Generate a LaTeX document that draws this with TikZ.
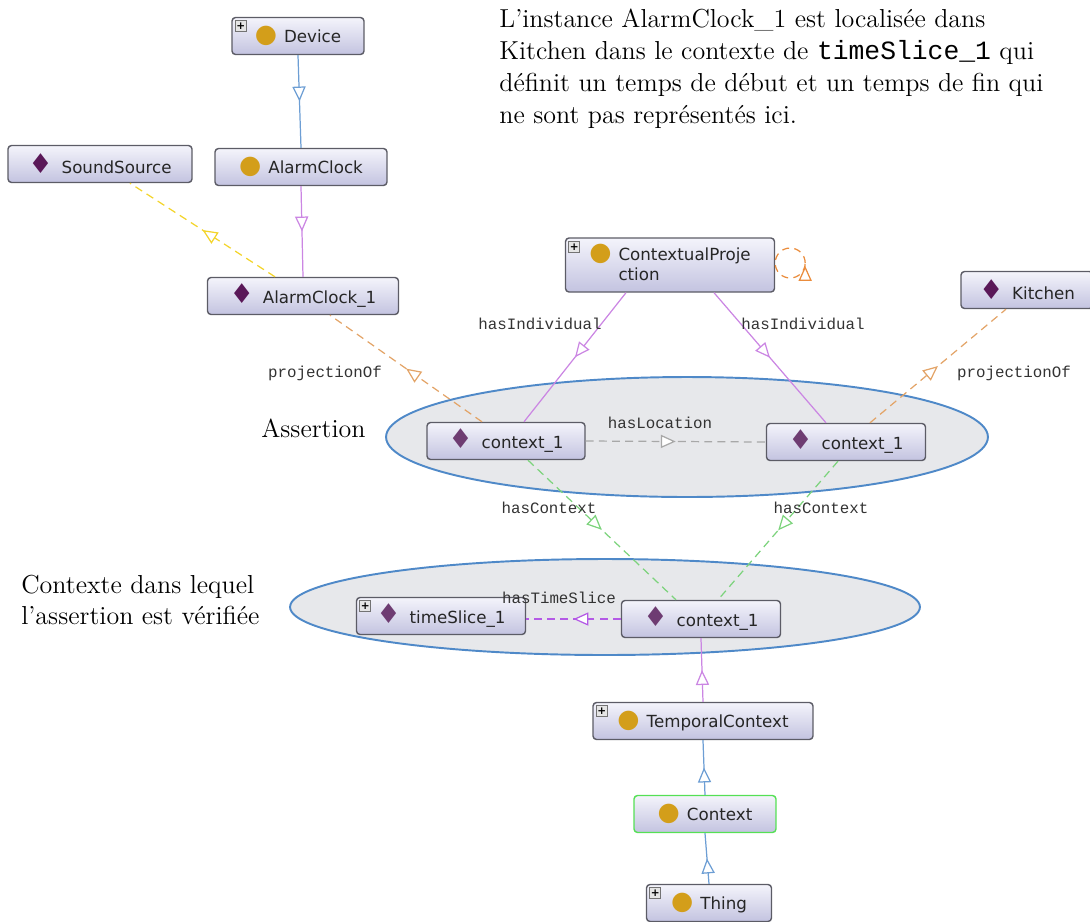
\documentclass[tikz,border=0pt]{standalone}
\usepackage{fontspec}
\newfontfamily\boxfont{DejaVu Sans}
\newfontfamily\monofont{Liberation Mono}
\usepackage{xcolor}
\usepackage{tikz}
\usetikzlibrary{positioning,calc}
\usetikzlibrary{arrows.meta,decorations.markings}
\definecolor{clsgold}{HTML}{D39E1A}
\definecolor{indpurple}{HTML}{5A1858}
\definecolor{ctxpurple}{HTML}{6E3C72}
\definecolor{subblue}{HTML}{6D9ED4}
\definecolor{isaviolet}{HTML}{CB86E3}
\definecolor{slicepurple}{HTML}{B45AE6}
\definecolor{srcyellow}{HTML}{F3D42A}
\definecolor{projorange}{HTML}{E3A468}
\definecolor{loopcol}{HTML}{EA8C3C}
\definecolor{ctxgreen}{HTML}{7CD37C}
\definecolor{locgray}{HTML}{A8A8A8}
\definecolor{areablue}{HTML}{4F89C8}
\definecolor{areafill}{HTML}{E7E8EB}
\definecolor{boxedge}{HTML}{5C5C66}
\definecolor{boxtop}{HTML}{F4F4FB}
\definecolor{boxbot}{HTML}{C3C3E0}
\definecolor{selgreen}{HTML}{55E055}
\tikzset{>={Triangle[fill=white,length=8.5pt,width=7.5pt]}}
\tikzset{
  entity/.style={draw=boxedge, line width=0.8pt, rounded corners=2pt,
    top color=boxtop, bottom color=boxbot, minimum height=0.74cm,
    inner sep=2pt, text=black!85, font=\boxfont\fontsize{9.5}{11.5}\selectfont},
  plusbox/.style={draw=black!55, fill=black!10, line width=0.4pt,
    minimum size=0.22cm, inner sep=0pt, font=\boxfont\bfseries\fontsize{6}{6}\selectfont},
  area/.style={draw=areablue, line width=1.1pt, fill=areafill},
  lbl/.style={font=\monofont\fontsize{9}{10}\selectfont, text=black!80, inner sep=1pt},
  note/.style={font=\fontsize{14.8}{18.1}\selectfont, text=black, inner sep=0pt},
  midarrow/.style={postaction={decorate,decoration={markings,
    mark=at position #1 with {\arrow[solid,line width=0.7pt]{>}}}}},
  midarrow/.default=0.5,
  link/.style={line width=0.7pt, midarrow},
  subof/.style={link, draw=subblue},
  isa/.style={link, draw=isaviolet},
  dlink/.style={link, dash pattern=on 4.5pt off 3pt},
}
\newcommand\clsicon{{\fontsize{14.5}{13}\selectfont\textcolor{clsgold}{●}}}
\newcommand\indicon{{\fontsize{15.5}{13}\selectfont\textcolor{indpurple}{♦}}}
\newcommand\ctxicon{{\fontsize{15.5}{13}\selectfont\textcolor{ctxpurple}{♦}}}
\newcommand\plusmark[1]{\node[plusbox] (#1p) at ([xshift=0.19cm,yshift=-0.19cm]#1.north west) {+};}

\begin{document}
\begin{tikzpicture}[x=0.02cm,y=-0.02cm]
  \useasboundingbox (0,0) rectangle (1090,921);

  % the two context areas
  \draw[area] (687,437) ellipse [x radius=6.02cm, y radius=1.2cm];
  \draw[area] (605,607) ellipse [x radius=6.3cm, y radius=0.96cm];

  % classes and individuals
  \node[entity, minimum width=2.64cm] (dev) at (298,36) {\clsicon\hspace{4pt}Device};
  \node[entity, minimum width=3.44cm] (acls) at (301,167) {\clsicon\hspace{4pt}AlarmClock};
  \node[entity, minimum width=3.68cm] (snd) at (100,164) {\indicon\hspace{5pt}SoundSource};
  \node[entity, minimum width=3.82cm] (ac1) at (303,296) {\indicon\hspace{5pt}AlarmClock\_1};
  \node[entity, minimum width=4.18cm, minimum height=1.08cm] (cp) at (670,265)
    {\clsicon\hspace{4pt}\begin{tabular}[t]{@{}l@{}}ContextualProje\\ction\end{tabular}};
  \node[entity, minimum width=2.64cm] (kit) at (1027,290) {\indicon\hspace{5pt}Kitchen};
  \node[entity, minimum width=3.16cm] (c1l) at (506,441) {\ctxicon\hspace{5pt}context\_1};
  \node[entity, minimum width=3.18cm] (c1r) at (846,442) {\ctxicon\hspace{5pt}context\_1};
  \node[entity, minimum width=3.18cm] (c1b) at (701,619) {\ctxicon\hspace{5pt}context\_1};
  \node[entity, minimum width=3.38cm] (ts1) at (441,616) {\ctxicon\hspace{5pt}timeSlice\_1};
  \node[entity, minimum width=4.4cm] (tc) at (703,721) {\clsicon\hspace{4pt}TemporalContext};
  \node[entity, minimum width=2.84cm, draw=selgreen] (ctx) at (705,814) {\clsicon\hspace{4pt}Context};
  \node[entity, minimum width=2.5cm] (thg) at (709,903) {\clsicon\hspace{4pt}Thing};
  \plusmark{dev}
  \plusmark{cp}
  \plusmark{ts1}
  \plusmark{tc}
  \plusmark{thg}

  % hierarchy
  \draw[subof] (dev.south) -- (acls.north);
  \draw[isa] (acls.south) -- (ac1.north);
  \draw[subof] (ctx.north) -- (tc.south);
  \draw[subof] (thg.north) -- (ctx.south);
  \draw[isa] (tc.north) -- (c1b.south);
  \draw[dlink, draw=srcyellow] ($(ac1.north)+(-28,0)$) -- ($(snd.south)+(30,0)$);
  \draw[isa] ($(cp.south)+(-44,0)$) -- ($(c1l.north)+(18,0)$);
  \draw[isa] ($(cp.south)+(44,0)$) -- ($(c1r.north)+(-20,0)$);

  % object properties
  \draw[dlink, draw=projorange] ($(c1l.north)+(-24,0)$) -- ($(ac1.south)+(27,0)$);
  \draw[dlink, draw=projorange] ($(c1r.north)+(24,0)$) -- ($(kit.south)+(-21,0)$);
  \draw[dlink, draw=locgray] (c1l.east) -- (c1r.west);
  \draw[dlink, draw=ctxgreen] ($(c1l.south)+(22,0)$) -- ($(c1b.north)+(-25,0)$);
  \draw[dlink, draw=ctxgreen] ($(c1r.south)+(-8,0)$) -- ($(c1b.north)+(17,0)$);
  \draw[dlink, draw=slicepurple] (c1b.west) -- (ts1.east |- c1b.west);
  \draw[line width=0.7pt, draw=loopcol, dash pattern=on 4pt off 3pt]
    ($(cp.east)+(15,-2)$) circle (0.3cm);
  \draw[line width=0.7pt, draw=loopcol, -{Triangle[fill=white,length=8.5pt,width=7.5pt]}]
    ($(cp.east)+(30,8)$) -- ++(0,-7);

  % edge labels
  \node[lbl] (pofl) at (325,373) {projectionOf};
  \node[lbl] (hil) at (540,324) {hasIndividual};
  \node[lbl] (hir) at (803,324) {hasIndividual};
  \node[lbl] (pofr) at (1014,373) {projectionOf};
  \node[lbl] (hloc) at (660,423) {hasLocation};
  \node[lbl] (hcl) at (549,508) {hasContext};
  \node[lbl] (hcr) at (821,508) {hasContext};
  \node[lbl] (hts) at (559,598) {hasTimeSlice};

  % comments
  \node[note, anchor=north west, align=left] (intro) at (499,9)
    {L’instance AlarmClock\_1 est localisée dans\\
     Kitchen dans le contexte de {\monofont\fontsize{15}{18.1}\selectfont timeSlice\_1} qui\\
     définit un temps de début et un temps de fin qui\\
     ne sont pas représentés ici.};
  \node[note, anchor=west] (asrt) at (261,428) {Assertion};
  \node[note, anchor=west, align=left] (ctxnote) at (21,600)
    {Contexte dans lequel\\l’assertion est vérifiée};
\end{tikzpicture}
\end{document}
